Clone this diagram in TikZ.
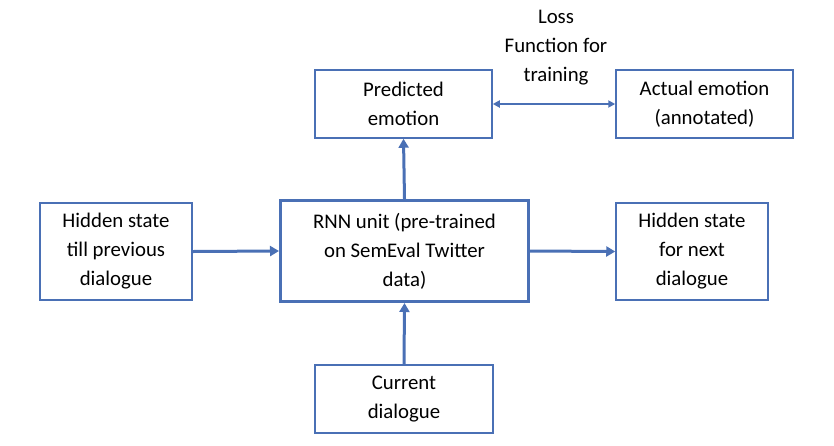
\documentclass[tikz,border=0pt]{standalone}
\usepackage{fontspec}
\setmainfont{Carlito}
\usetikzlibrary{arrows.meta}
\definecolor{obl}{HTML}{4A70B5}
\begin{document}
\begin{tikzpicture}[x=1pt,y=-1pt,
  every node/.style={font=\fontsize{20.8}{29}\selectfont, align=center, text=black},
  box/.style={draw=obl, line width=1.5pt, inner sep=0pt},
  bigbox/.style={draw=obl, line width=3pt, inner sep=0pt},
  conn/.style={draw=obl, line width=3pt, -{Triangle[length=9pt,width=10pt]}},
  dconn/.style={draw=obl, line width=2pt, {Triangle[length=7pt,width=7pt]}-{Triangle[length=7pt,width=7pt]}}]
\useasboundingbox (0,0) rectangle (834,445);
\node[box, minimum width=177pt, minimum height=68pt] (pred) at (403.5,104) {Predicted\\emotion};
\node[box, minimum width=177pt, minimum height=68pt] (act) at (704.5,104) {Actual emotion\\(annotated)};
\node (loss) at (556,48) {Loss\\Function for\\training};
\node[box, minimum width=152pt, minimum height=97pt] (hprev) at (116,251.5) {Hidden state\\till previous\\dialogue};
\node[bigbox, minimum width=248pt, minimum height=101pt] (rnn) at (404.5,251) {RNN unit (pre-trained\\on SemEval Twitter\\data)};
\node[box, minimum width=152pt, minimum height=97pt] (hnext) at (692,251.5) {Hidden state\\for next\\dialogue};
\node[box, minimum width=178pt, minimum height=68pt] (cur) at (404,399) {Current\\dialogue};
\draw[conn] (rnn.north) -- (pred.south);
\draw[conn] (cur.north) -- (rnn.south);
\draw[conn] (hprev.east) -- (rnn.west);
\draw[conn] (rnn.east) -- (hnext.west);
\draw[dconn] (pred.east) -- (act.west);
\end{tikzpicture}
\end{document}
